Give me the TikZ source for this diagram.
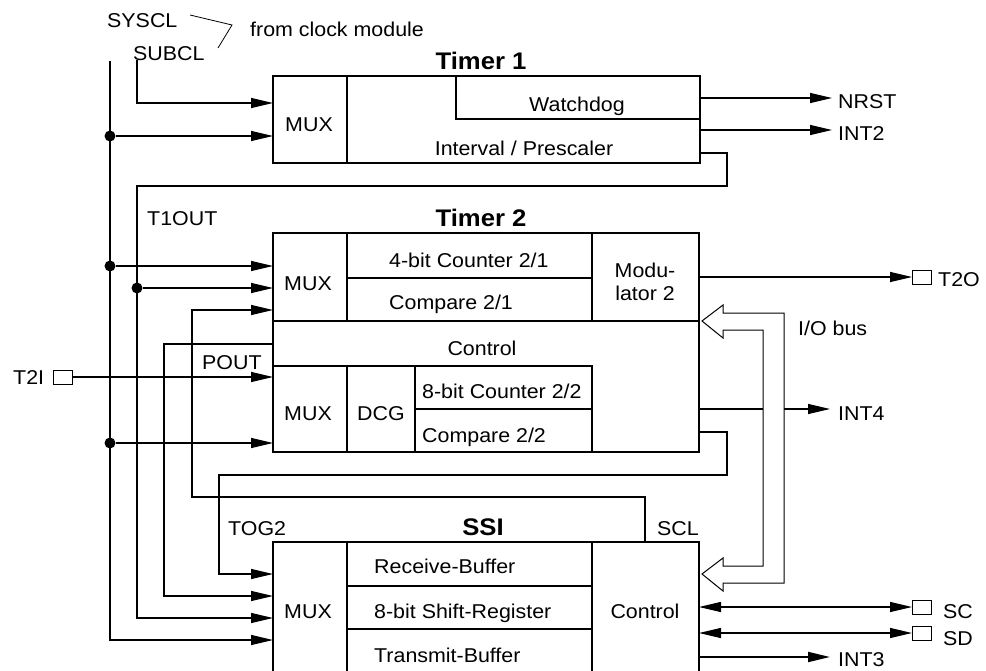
\documentclass[tikz,border=0pt]{standalone}
\usepackage{fontspec}
\setmainfont{Liberation Sans}[FakeStretch=1.07]
\usetikzlibrary{arrows.meta,calc}
\begin{document}
\begin{tikzpicture}[x=1pt,y=-1pt,
 blk/.style={draw, line width=2.5pt, inner sep=0pt, outer sep=0pt, anchor=north west},
 dv/.style={line width=2.5pt},
 conn/.style={line width=1.3pt},
 thk/.style={line width=1.9pt},
 tipA/.tip={Triangle[length=22pt,width=10pt]},
 arr/.style={conn,-tipA},
 dot/.style={circle, fill, inner sep=0pt, minimum size=11pt},
 lbl/.style={font=\fontsize{20}{23}\selectfont, inner sep=0pt, anchor=base west},
 ctr/.style={font=\fontsize{20}{23}\selectfont, inner sep=0pt, anchor=base},
 ttl/.style={font=\fontsize{24}{28}\selectfont\bfseries, inner sep=0pt, anchor=base},
 pinbox/.style={draw, line width=0.8pt, minimum width=19pt, minimum height=14pt, inner sep=0pt, outer sep=0pt, anchor=west},
]
\useasboundingbox (0,0) rectangle (986,670);

% ---------- blocks ----------
\node[blk, minimum width=427pt, minimum height=87pt] (t1) at (273,76) {};
\draw[dv] (347,76) -- (347,163);
\draw[dv] (456,76) -- (456,119) -- (700,119);

\node[blk, minimum width=426pt, minimum height=219pt] (t2) at (273,233) {};
\draw[dv] (347,233) -- (347,321);
\draw[dv] (347,278) -- (592,278);
\draw[dv] (592,233) -- (592,321);
\draw[dv] (273,321) -- (699,321);
\draw[dv] (273,366) -- (592,366) -- (592,452);
\draw[dv] (347,366) -- (347,452);
\draw[dv] (415,366) -- (415,452);
\draw[dv] (415,409) -- (592,409);

\node[blk, minimum width=426pt, minimum height=135pt] (ssi) at (273,542) {};
\draw[dv] (347,542) -- (347,677);
\draw[dv] (592,542) -- (592,677);
\draw[dv] (347,586) -- (592,586);
\draw[dv] (347,629) -- (592,629);

% ---------- texts ----------
\node[ttl] (t1t) at (481,69) {Timer 1};
\node[ttl] (t2t) at (481,226) {Timer 2};
\node[ttl] (ssit) at (483,535) {SSI};

\node[ctr] (t1mux) at (309,131) {MUX};
\node[ctr] (wd) at (577,111) {Watchdog};
\node[ctr] (ip) at (524,155) {Interval / Prescaler};

\node[ctr] (mux21) at (308,290) {MUX};
\node[lbl] (c21) at (389,267) {4-bit Counter 2/1};
\node[lbl] (cmp21) at (389,309) {Compare 2/1};
\node[ctr, align=center] (mod) at (645,300) {Modu-\\[0pt]lator 2};
\node[ctr] (ctl2) at (482,355) {Control};
\node[ctr] (mux22) at (308,420) {MUX};
\node[ctr] (dcg) at (381,420) {DCG};
\node[lbl] (c22) at (422,398) {8-bit Counter 2/2};
\node[lbl] (cmp22) at (422,442) {Compare 2/2};

\node[ctr] (muxs) at (308,618) {MUX};
\node[lbl] (rb) at (374,573) {Receive-Buffer};
\node[lbl] (sr) at (374,618) {8-bit Shift-Register};
\node[lbl] (tb) at (374,662) {Transmit-Buffer};
\node[ctr] (ctls) at (645,618) {Control};

\node[lbl] (syscl) at (107,27) {SYSCL};
\node[lbl] (subcl) at (133,60) {SUBCL};
\node[lbl] (fcm) at (250,36) {from clock module};
\node[lbl] (t1out) at (147,225) {T1OUT};
\node[lbl] (pout) at (202,369) {POUT};
\node[lbl] (t2il) at (13,384) {T2I};
\node[lbl] (tog2) at (228,535) {TOG2};
\node[lbl] (scl) at (657,535) {SCL};
\node[lbl] (nrst) at (838,108) {NRST};
\node[lbl] (int2) at (838,140) {INT2};
\node[lbl] (t2ol) at (938,286) {T2O};
\node[lbl] (iob) at (798,335) {I/O bus};
\node[lbl] (int4) at (838,420) {INT4};
\node[lbl] (scl2) at (943,618) {SC};
\node[lbl] (sdl) at (943,645) {SD};
\node[lbl] (int3) at (838,666) {INT3};

% ---------- pins ----------
\node[pinbox] (t2i) at (53,377) {};
\node[pinbox] (t2o) at (912,277) {};
\node[pinbox] (sc) at (912,607) {};
\node[pinbox] (sd) at (912,633) {};

% ---------- clock brace ----------
\coordinate (b1) at (190,15);
\coordinate (b2) at (232,25);
\coordinate (b3) at (218,48);
\draw[line width=0.8pt] (b1) -- (b2) -- (b3);

% ---------- junctions ----------
\node[dot] (d1) at (110,136) {};
\node[dot] (d2) at (110,266) {};
\node[dot] (d3) at (110,443) {};
\node[dot] (d4) at (137,288) {};
\coordinate (v0) at (110,61);
\coordinate (s0) at (137,60);

% ---------- connectors ----------
\draw[arr] (v0) |- (ssi.west |- 0,640);
\draw[arr] (s0) |- (t1.west |- 0,103);
\draw[arr] (d1) -- (t1.west |- d1);
\draw[arr] (d2) -- (t2.west |- d2);
\draw[arr] (d3) -- (t2.west |- d3);
\draw[arr] (d4) -- (t2.west |- d4);

% T1OUT
\draw[conn,-tipA] (t1.east |- 0,153) -| (727,186) -| (137,618) -- (ssi.west |- 0,618);
% SCL
\draw[arr] (ssi.north -| 645,0) |- (192,497) |- (t2.west |- 0,310);
% POUT
\draw[conn,-tipA] (t2.west |- 0,344) -| (164,596) -- (ssi.west |- 0,596);
% T2I
\draw[arr] (t2i.east) -- (t2.west |- t2i);
% TOG2
\draw[conn,-tipA] (t2.east |- 0,432) -| (727,475) -| (219,574) -- (ssi.west |- 0,574);
% outputs
\draw[arr] (t1.east |- 0,98) -- (832,98);
\draw[arr] (t1.east |- 0,130) -- (832,130);
\draw[arr] (t2.east |- t2o) -- (t2o.west);
\draw[arr] (t2.east |- 0,409) -- (830,409);
\draw[conn,tipA-tipA] (ssi.east |- sc) -- (sc.west);
\draw[conn,tipA-tipA] (ssi.east |- sd) -- (sd.west);
\draw[thk,-tipA] (ssi.east |- 0,657) -- (830,657);

% I/O bus
\draw[line width=1pt, fill=white] (702,321) -- (723,305) -- (723,313) -- (784,313) -- (784,583)
  -- (723,583) -- (723,591) -- (702,574) -- (723,558) -- (723,566) -- (763,566) -- (763,330)
  -- (723,330) -- (723,338) -- cycle;
\end{tikzpicture}
\end{document}
